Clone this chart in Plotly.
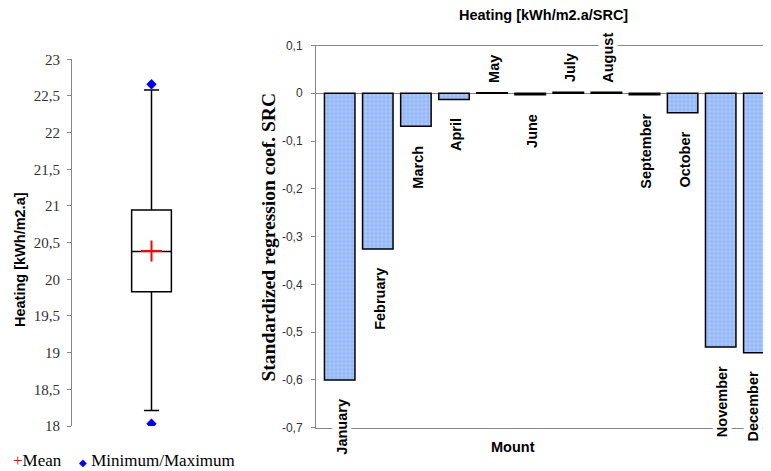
import plotly.graph_objects as go

# ---------------- data ----------------
months = ["January", "February", "March", "April", "May", "June",
          "July", "August", "September", "October", "November", "December"]
src_values = [-0.600, -0.326, -0.069, -0.013, 0.001, -0.003,
              0.002, 0.002, -0.003, -0.041, -0.531, -0.543]
src_tickvals = [0.1, 0.0, -0.1, -0.2, -0.3, -0.4, -0.5, -0.6, -0.7]
src_ticktext = ["0,1", "0", "-0,1", "-0,2", "-0,3", "-0,4", "-0,5", "-0,6", "-0,7"]

box_q1 = 19.83
box_median = 20.38
box_q3 = 20.945
box_lower_whisker = 18.21
box_upper_whisker = 22.58
heat_mean = 20.385
heat_min = 18.03
heat_max = 22.66

W, H = 771, 471
OFF = 8  # page body margin


def px_x(x):
    return (x - OFF) / W


def px_y(y):
    return 1 - (y - OFF) / H


fig = go.Figure()

# ---------------- left: box plot ----------------
fig.add_trace(go.Box(
    x=[0], q1=[box_q1], median=[box_median], q3=[box_q3],
    lowerfence=[box_lower_whisker], upperfence=[box_upper_whisker],
    width=0.5, whiskerwidth=0.38, boxpoints=False,
    line=dict(color="black", width=1.5), fillcolor="white",
    xaxis="x", yaxis="y", showlegend=False, hoverinfo="skip",
))
fig.add_trace(go.Scatter(
    x=[0], y=[heat_mean], mode="markers", name="Mean",
    marker=dict(symbol="cross-thin", size=15, line=dict(color="#ff0000", width=2)),
    xaxis="x", yaxis="y", showlegend=False,
))
fig.add_trace(go.Scatter(
    x=[0, 0], y=[heat_min, heat_max], mode="markers", name="Minimum/Maximum",
    marker=dict(symbol="diamond", size=8, color="#0000ff"),
    xaxis="x", yaxis="y", showlegend=False,
))

# ---------------- right: SRC bars ----------------
fig.add_trace(go.Bar(
    x=months, y=src_values, width=0.8,
    marker=dict(
        color="#a0c2fa",
        line=dict(color="black", width=1.5),
        pattern=dict(shape=".", fgcolor="#c8dbfd", bgcolor="#93b7f8", size=4, solidity=0.4),
    ),
    xaxis="x2", yaxis="y2", showlegend=False,
))

label_font = dict(family="Liberation Sans", size=14.5, color="black")
annotations = []
n = len(months)
for i, (m, v) in enumerate(zip(months, src_values)):
    xs = 2 if i < n - 1 else -6  # keep the last label inside the visible page
    if v < 0:
        annotations.append(dict(
            x=m, y=v, xref="x2", yref="y2", text=f"<b>{m}</b>", textangle=-90,
            showarrow=False, xanchor="center", yanchor="top", yshift=-17, xshift=xs,
            font=label_font, bgcolor="white", borderpad=1))
    else:
        annotations.append(dict(
            x=m, y=v, xref="x2", yref="y2", text=f"<b>{m}</b>", textangle=-90,
            showarrow=False, xanchor="center", yanchor="bottom", yshift=8, xshift=xs,
            font=label_font, bgcolor="white", borderpad=1))

annotations += [
    dict(text="<b>Heating [kWh/m2.a/SRC]</b>", x=px_x(543.5), y=px_y(15), xref="paper", yref="paper",
         showarrow=False, xanchor="center", yanchor="middle",
         font=dict(family="Liberation Sans", size=14.5, color="black")),
    dict(text="<b>Mount</b>", x=px_x(512.5), y=px_y(447), xref="paper", yref="paper",
         showarrow=False, xanchor="center", yanchor="middle",
         font=dict(family="Liberation Sans", size=14.5, color="black")),
    dict(text="<b>Standardized regression coef. SRC</b>", x=px_x(267.5), y=px_y(237), xref="paper", yref="paper",
         showarrow=False, xanchor="center", yanchor="middle", textangle=-90,
         font=dict(family="Liberation Serif", size=19.5, color="black")),
    dict(text="<b>Heating [kWh/m2.a]</b>", x=px_x(20), y=px_y(260), xref="paper", yref="paper",
         showarrow=False, xanchor="center", yanchor="middle", textangle=-90,
         font=dict(family="Liberation Sans", size=14.5, color="black")),
    dict(text="<span style='color:#ff0000'>+</span>Mean", x=px_x(11), y=px_y(460), xref="paper", yref="paper",
         showarrow=False, xanchor="left", yanchor="middle",
         font=dict(family="Liberation Serif", size=17, color="black")),
    dict(text="<span style='color:#0000ff;font-size:10px'>◆</span> Minimum/Maximum", x=px_x(77), y=px_y(460),
         xref="paper", yref="paper", showarrow=False, xanchor="left", yanchor="middle",
         font=dict(family="Liberation Serif", size=17, color="black")),
]

axis_gray = "#868686"
left_dom_y = [px_y(426), px_y(59.3)]
right_dom_y = [px_y(427.7), px_y(45.5)]

fig.update_layout(
    width=W, height=H,
    margin=dict(l=0, r=0, t=0, b=0, pad=0),
    paper_bgcolor="white", plot_bgcolor="white",
    separators=", ",
    showlegend=False,
    xaxis=dict(domain=[px_x(72), px_x(231)], range=[-1, 1], visible=False, fixedrange=True,
               automargin=False),
    yaxis=dict(domain=left_dom_y, range=[18, 23], dtick=0.5, tick0=18,
               showline=True, linecolor=axis_gray, linewidth=1,
               ticks="outside", ticklen=4, tickcolor=axis_gray, ticklabelstandoff=4,
               showgrid=False, zeroline=False, automargin=False,
               tickfont=dict(family="Liberation Serif", size=15, color="#333333")),
    yaxis3=dict(domain=left_dom_y, range=[18, 23], dtick=0.5, tick0=18, overlaying="y",
                anchor="x", side="left", ticks="inside", ticklen=4, tickcolor=axis_gray,
                showticklabels=False, showgrid=False, zeroline=False, showline=False,
                automargin=False),
    xaxis2=dict(domain=[px_x(316), 1.0], anchor="y2", type="category",
                categoryorder="array", categoryarray=months,
                range=[-0.622, 11.53], showticklabels=False, ticks="",
                showline=True, linecolor=axis_gray, linewidth=1, mirror=True,
                showgrid=False, zeroline=False, automargin=False),
    yaxis2=dict(domain=right_dom_y, anchor="x2", range=[-0.7, 0.1],
                tickvals=src_tickvals, ticktext=src_ticktext,
                showline=True, linecolor=axis_gray, linewidth=1,
                ticks="outside", ticklen=4, tickcolor=axis_gray, ticklabelstandoff=6,
                showgrid=False, zeroline=True, zerolinecolor=axis_gray, zerolinewidth=1,
                automargin=False,
                tickfont=dict(family="Liberation Sans", size=12, color="#333333")),
    annotations=annotations,
)

fig.write_html("out.html")
